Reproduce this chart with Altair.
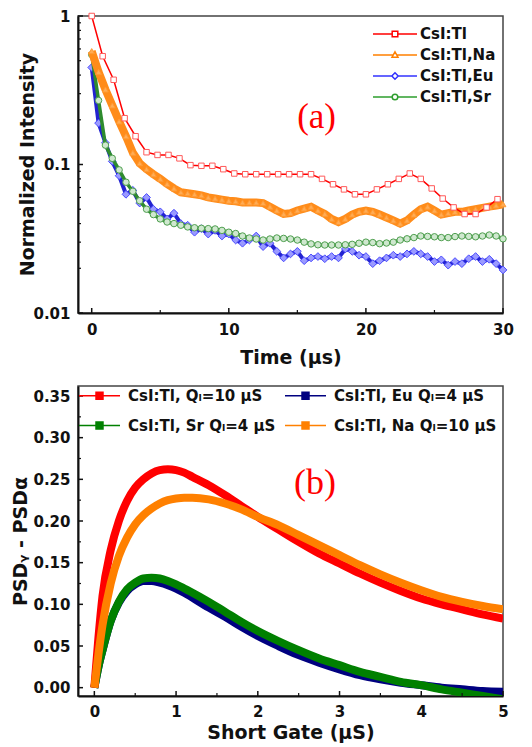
import altair as alt
import pandas as pd

# ---------------- panel (a): scintillation decay ----------------
series_a = ["CsI:Tl", "CsI:Tl,Na", "CsI:Tl,Eu", "CsI:Tl,Sr"]
colors_a = ["#ff0000", "#ff8000", "#3333ff", "#2e9e2e"]

t_tl = [0.0, 0.8, 1.6, 2.4, 3.2, 4.0, 4.8, 5.6, 6.4, 7.2, 8.0, 8.8, 9.6, 10.4,
        11.2, 12.0, 12.8, 13.6, 14.4, 15.2, 16.0, 16.8, 17.6, 18.4, 19.2, 20.0,
        20.8, 21.6, 22.4, 23.2, 24.0, 24.8, 25.6, 26.4, 27.2, 28.0, 28.8, 29.6]
i_tl = [1.0, 0.536, 0.372, 0.205, 0.155, 0.121, 0.116, 0.116, 0.110, 0.099,
        0.098, 0.098, 0.093, 0.087, 0.086, 0.086, 0.086, 0.086, 0.086, 0.086,
        0.086, 0.080, 0.0736, 0.068, 0.063, 0.063, 0.068, 0.0736, 0.080, 0.087,
        0.080, 0.069, 0.059, 0.0514, 0.0464, 0.0464, 0.0514, 0.0584]

t_dense = [0.0, 0.5, 1.0, 1.5, 2.0, 2.5, 3.0, 3.5, 4.0, 4.5, 5.0, 5.5, 6.0, 6.5,
           7.0, 7.5, 8.0, 8.5, 9.0, 9.5, 10.0, 10.5, 11.0, 11.5, 12.0, 12.5,
           13.0, 13.5, 14.0, 14.5, 15.0, 15.5, 16.0, 16.5, 17.0, 17.5, 18.0,
           18.5, 19.0, 19.5, 20.0, 20.5, 21.0, 21.5, 22.0, 22.5, 23.0, 23.5,
           24.0, 24.5, 25.0, 25.5, 26.0, 26.5, 27.0, 27.5, 28.0, 28.5, 29.0,
           29.5, 30.0]
i_na = [0.58, 0.42, 0.32, 0.25, 0.195, 0.155, 0.12, 0.102, 0.093, 0.086, 0.080,
        0.074, 0.069, 0.065, 0.064, 0.063, 0.062, 0.060, 0.059, 0.058, 0.057,
        0.0565, 0.0555, 0.0555, 0.0555, 0.055, 0.052, 0.049, 0.0465, 0.047,
        0.049, 0.0505, 0.052, 0.049, 0.0465, 0.043, 0.041, 0.043, 0.046, 0.048,
        0.049, 0.048, 0.046, 0.044, 0.042, 0.040, 0.042, 0.046, 0.050, 0.052,
        0.049, 0.046, 0.047, 0.048, 0.048, 0.049, 0.050, 0.051, 0.052, 0.053,
        0.054]
i_eu = [0.45, 0.19, 0.14, 0.105, 0.084, 0.063, 0.067, 0.055, 0.060, 0.050,
        0.048, 0.043, 0.047, 0.040, 0.039, 0.035, 0.037, 0.034, 0.036, 0.033,
        0.034, 0.031, 0.0295, 0.031, 0.033, 0.028, 0.0295, 0.026, 0.0235, 0.025,
        0.026, 0.0225, 0.0235, 0.024, 0.0232, 0.024, 0.0235, 0.027, 0.026,
        0.0245, 0.024, 0.0215, 0.0225, 0.0235, 0.0245, 0.024, 0.025, 0.026,
        0.025, 0.024, 0.0222, 0.0228, 0.021, 0.0222, 0.0215, 0.0232, 0.024,
        0.0222, 0.023, 0.0215, 0.0195]
i_sr = [0.55, 0.27, 0.135, 0.11, 0.092, 0.076, 0.066, 0.057, 0.050, 0.046,
        0.043, 0.041, 0.040, 0.039, 0.038, 0.0375, 0.0372, 0.037, 0.0368, 0.036,
        0.035, 0.0343, 0.033, 0.032, 0.0315, 0.031, 0.0315, 0.032, 0.0318,
        0.0315, 0.031, 0.030, 0.0292, 0.0288, 0.0287, 0.0287, 0.0287, 0.0288,
        0.029, 0.0295, 0.030, 0.0298, 0.0293, 0.0296, 0.030, 0.031, 0.0316,
        0.0322, 0.033, 0.0328, 0.0326, 0.0322, 0.0322, 0.0327, 0.033, 0.0328,
        0.0326, 0.033, 0.0335, 0.033, 0.0316]

xa_major = [0, 10, 20, 30]
xa_minor = [5, 15, 25]
ya_major = [0.01, 0.1, 1]
ya_minor = [0.02, 0.03, 0.04, 0.05, 0.06, 0.07, 0.08, 0.09,
            0.2, 0.3, 0.4, 0.5, 0.6, 0.7, 0.8, 0.9]
ann_a = ["(a)"]
ann_a_t = [16.4]
ann_a_v = [0.209]

# ---------------- panel (b): PSD difference ----------------
series_b = ["CsI:Tl, Qₗ=10 μS", "CsI:Tl, Sr Qₗ=4 μS",
            "CsI:Tl, Eu Qₗ=4 μS", "CsI:Tl, Na Qₗ=10 μS"]
colors_b = ["#ff0000", "#008000", "#000080", "#ff8000"]

gate = [0.0, 0.05, 0.1, 0.2, 0.3, 0.4, 0.5, 0.6, 0.7, 0.8, 0.9, 1.0, 1.1, 1.2,
        1.4, 1.6, 1.8, 2.0, 2.25, 2.5, 2.75, 3.0, 3.25, 3.5, 3.75, 4.0, 4.25,
        4.5, 4.75, 5.0]
psd_tl = [0.0, 0.06, 0.11, 0.165, 0.2, 0.224, 0.24, 0.25, 0.257, 0.261, 0.262,
          0.261, 0.258, 0.253, 0.243, 0.231, 0.218, 0.205, 0.19, 0.175, 0.161,
          0.149, 0.137, 0.126, 0.116, 0.107, 0.1, 0.094, 0.088, 0.083]
psd_na = [0.0, 0.04, 0.075, 0.125, 0.158, 0.18, 0.196, 0.207, 0.215, 0.221,
          0.225, 0.227, 0.228, 0.228, 0.226, 0.221, 0.214, 0.205, 0.195, 0.183,
          0.171, 0.159, 0.147, 0.136, 0.126, 0.117, 0.109, 0.103, 0.098, 0.094]
psd_sr = [0.0, 0.025, 0.045, 0.08, 0.103, 0.118, 0.126, 0.131, 0.132, 0.131,
          0.128, 0.124, 0.119, 0.114, 0.103, 0.091, 0.079, 0.068, 0.056, 0.045,
          0.035, 0.027, 0.019, 0.013, 0.007, 0.003, -0.002, -0.006, -0.010,
          -0.014]
psd_eu = [0.0, 0.025, 0.045, 0.08, 0.102, 0.116, 0.124, 0.128, 0.128, 0.126,
          0.123, 0.119, 0.114, 0.108, 0.096, 0.085, 0.073, 0.062, 0.050, 0.039,
          0.030, 0.022, 0.015, 0.010, 0.006, 0.003, 0.000, -0.002, -0.004,
          -0.005]

xb_major = [0, 1, 2, 3, 4, 5]
xb_minor = [0.5, 1.5, 2.5, 3.5, 4.5]
yb_major = [0.0, 0.05, 0.10, 0.15, 0.20, 0.25, 0.30, 0.35]
yb_minor = [0.025, 0.075, 0.125, 0.175, 0.225, 0.275, 0.325]
ann_b = ["(b)"]
ann_b_g = [2.7]
ann_b_p = [0.246]

# ---------------- tables ----------------
rows = []
for t, v in zip(t_tl, i_tl):
    rows.append({"t": t, "v": v, "series": series_a[0]})
for name, vals in zip(series_a[1:], [i_na, i_eu, i_sr]):
    for t, v in zip(t_dense, vals):
        rows.append({"t": t, "v": v, "series": name})
df_a = pd.DataFrame(rows)

rows = []
for name, vals in zip(series_b, [psd_tl, psd_sr, psd_eu, psd_na]):
    for g, p in zip(gate, vals):
        rows.append({"g": g, "p": p, "sample": name})
df_b = pd.DataFrame(rows)

W_A, H_A = 425, 297
W_B, H_B = 425, 310
FONT = "DejaVu Sans"

# ---------------- chart (a) ----------------
X_a = alt.X("t:Q", scale=alt.Scale(domain=[-1, 30], nice=False, zero=False),
            axis=alt.Axis(values=xa_major, title="Time (μs)", labelPadding=9,
                          titlePadding=11, labelFlush=False))
Y_a = alt.Y("v:Q", scale=alt.Scale(type="log", domain=[0.01, 1], nice=False),
            axis=alt.Axis(values=ya_major, format="~g", title="Normalized Intensity",
                          labelPadding=8, titleX=-51, titleY=148,
                          titleBaseline="middle"))

style_a = {
    "CsI:Tl,Eu": dict(lc="#2323d0", lw=4, shape="diamond", size=60,
                      stroke="#4b4bff", fill="#9a9aff"),
    "CsI:Tl,Sr": dict(lc="#2e8b2e", lw=3.5, shape="circle", size=42,
                      stroke="#4f9f4f", fill="#cfe8cf"),
    "CsI:Tl,Na": dict(lc="#ff8c1a", lw=8, shape="triangle-up", size=34,
                      stroke="#ff9a33", fill="#ffac55"),
    "CsI:Tl": dict(lc="#ff0000", lw=1.5, shape="square", size=30,
                   stroke="#ff5a5a", fill="#ffffff"),
}

base_a = alt.Chart(df_a)
layers_a = []
for name in ["CsI:Tl,Eu", "CsI:Tl,Sr", "CsI:Tl,Na", "CsI:Tl"]:
    s = style_a[name]
    sub = base_a.transform_filter(alt.datum.series == name)
    layers_a.append(sub.mark_line(color=s["lc"], strokeWidth=s["lw"]).encode(x=X_a, y=Y_a))
    layers_a.append(sub.mark_point(shape=s["shape"], size=s["size"], filled=True,
                                   fill=s["fill"], stroke=s["stroke"], strokeWidth=1,
                                   opacity=1).encode(x=X_a, y=Y_a))

# legend glyphs: a line with an open marker in its middle
paths_a = [
    "M-3.4,0H-1.48M-0.92,0H1M-1.48,-0.28H-0.92V0.28H-1.48Z",
    "M-3.4,0H-1.38M-1.02,0H1M-1.2,-0.32L-0.9,0.22H-1.5Z",
    "M-3.4,0H-1.52M-0.88,0H1M-1.2,-0.32L-0.88,0L-1.2,0.32L-1.52,0Z",
    "M-3.4,0H-1.48M-0.92,0H1M-0.92,0A0.28,0.28,0,1,1,-1.48,0A0.28,0.28,0,1,1,-0.92,0Z",
]
leg_a = alt.Legend(title=None, orient="none", legendX=318, legendY=7, padding=0,
                   labelFont=FONT, labelFontWeight="bold", labelFontSize=15,
                   labelColor="#111111", symbolSize=400, symbolStrokeWidth=1.5,
                   labelOffset=2, rowPadding=2, labelLimit=300)
legend_layer_a = base_a.transform_filter("false").mark_point(
    filled=False, fill="white", strokeWidth=1.5, opacity=1).encode(
    x=X_a, y=Y_a,
    color=alt.Color("series:N", scale=alt.Scale(domain=series_a, range=colors_a), legend=leg_a),
    shape=alt.Shape("series:N", scale=alt.Scale(domain=series_a, range=paths_a), legend=leg_a),
)

tick_layers_a = [
    alt.Chart(pd.DataFrame({"t": xa_major})).mark_rule(color="#111", strokeWidth=1.5).encode(
        x=X_a, y=alt.value(H_A), y2=alt.value(H_A - 5)),
    alt.Chart(pd.DataFrame({"t": xa_minor})).mark_rule(color="#111", strokeWidth=1.2).encode(
        x=X_a, y=alt.value(H_A), y2=alt.value(H_A - 3)),
    alt.Chart(pd.DataFrame({"v": ya_major})).mark_rule(color="#111", strokeWidth=1.5).encode(
        y=Y_a, x=alt.value(0), x2=alt.value(5)),
    alt.Chart(pd.DataFrame({"v": ya_minor})).mark_rule(color="#111", strokeWidth=1.2).encode(
        y=Y_a, x=alt.value(0), x2=alt.value(3)),
]

text_a = alt.Chart(pd.DataFrame({"t": ann_a_t, "v": ann_a_v, "label": ann_a})).mark_text(
    font="Liberation Serif", fontSize=35, color="#ff0000", align="center",
    baseline="middle").encode(x=X_a, y=Y_a, text="label:N")

chart_a = alt.layer(*layers_a, legend_layer_a, *tick_layers_a, text_a).properties(
    width=W_A, height=H_A)

# ---------------- chart (b) ----------------
X_b = alt.X("g:Q", scale=alt.Scale(domain=[-0.2, 5], nice=False, zero=False),
            axis=alt.Axis(values=xb_major, format="d", title="Short Gate (μS)",
                          labelPadding=8, titlePadding=4, labelFlush=False))
Y_b = alt.Y("p:Q", scale=alt.Scale(domain=[-0.01, 0.362], nice=False, zero=False),
            axis=alt.Axis(values=yb_major, format=".2f", title="PSDᵧ - PSDα",
                          labelPadding=8, titleX=-58, titleY=155,
                          titleBaseline="middle"))

base_b = alt.Chart(df_b)
layers_b = []
for name, col in zip([series_b[2], series_b[1], series_b[0], series_b[3]],
                     ["#000080", "#008000", "#ff0000", "#ff8000"]):
    layers_b.append(base_b.transform_filter(alt.datum.sample == name).mark_line(
        color=col, strokeWidth=8, clip=True, interpolate="monotone").encode(x=X_b, y=Y_b))

paths_b = ["M-1,0H1M-0.17,-0.17H0.17V0.17H-0.17Z"] * 4
leg_b = alt.Legend(title=None, orient="none", legendX=0, legendY=-12, padding=0,
                   columns=2, columnPadding=6, labelFont=FONT, labelFontWeight="bold",
                   labelFontSize=15, labelColor="#111111", symbolSize=1681,
                   symbolStrokeWidth=1.5, labelOffset=7, rowPadding=0, labelLimit=300)
legend_layer_b = base_b.transform_filter("false").mark_point(
    filled=True, strokeWidth=1.5, opacity=1).encode(
    x=X_b, y=Y_b,
    fill=alt.Fill("sample:N", scale=alt.Scale(domain=series_b, range=colors_b), legend=leg_b),
    stroke=alt.Stroke("sample:N", scale=alt.Scale(domain=series_b, range=colors_b), legend=leg_b),
    shape=alt.Shape("sample:N", scale=alt.Scale(domain=series_b, range=paths_b), legend=leg_b),
)

tick_layers_b = [
    alt.Chart(pd.DataFrame({"g": xb_major})).mark_rule(color="#111", strokeWidth=1.5).encode(
        x=X_b, y=alt.value(H_B), y2=alt.value(H_B - 5)),
    alt.Chart(pd.DataFrame({"g": xb_minor})).mark_rule(color="#111", strokeWidth=1.2).encode(
        x=X_b, y=alt.value(H_B), y2=alt.value(H_B - 3)),
    alt.Chart(pd.DataFrame({"p": yb_major})).mark_rule(color="#111", strokeWidth=1.5).encode(
        y=Y_b, x=alt.value(0), x2=alt.value(5)),
    alt.Chart(pd.DataFrame({"p": yb_minor})).mark_rule(color="#111", strokeWidth=1.2).encode(
        y=Y_b, x=alt.value(0), x2=alt.value(3)),
]

text_b = alt.Chart(pd.DataFrame({"g": ann_b_g, "p": ann_b_p, "label": ann_b})).mark_text(
    font="Liberation Serif", fontSize=36, color="#ff0000", align="center",
    baseline="middle").encode(x=X_b, y=Y_b, text="label:N")

chart_b = alt.layer(*layers_b, legend_layer_b, *tick_layers_b, text_b).properties(
    width=W_B, height=H_B)

chart = alt.vconcat(chart_a, chart_b, spacing=5).resolve_scale(
    color="independent", shape="independent", fill="independent", stroke="independent"
).properties(
    padding={"left": 2, "top": 0, "right": 4, "bottom": 0}
).configure_view(
    stroke="#444444", strokeWidth=1.5
).configure_axis(
    labelFont=FONT, labelFontWeight="bold", labelFontSize=15, labelColor="#111111",
    titleFont=FONT, titleFontWeight="bold", titleFontSize=19, titleColor="#111111",
    grid=False, ticks=False, domainColor="#111111", domainWidth=2
)

chart.save("out.html", embed_options={"renderer": "svg", "actions": False})
